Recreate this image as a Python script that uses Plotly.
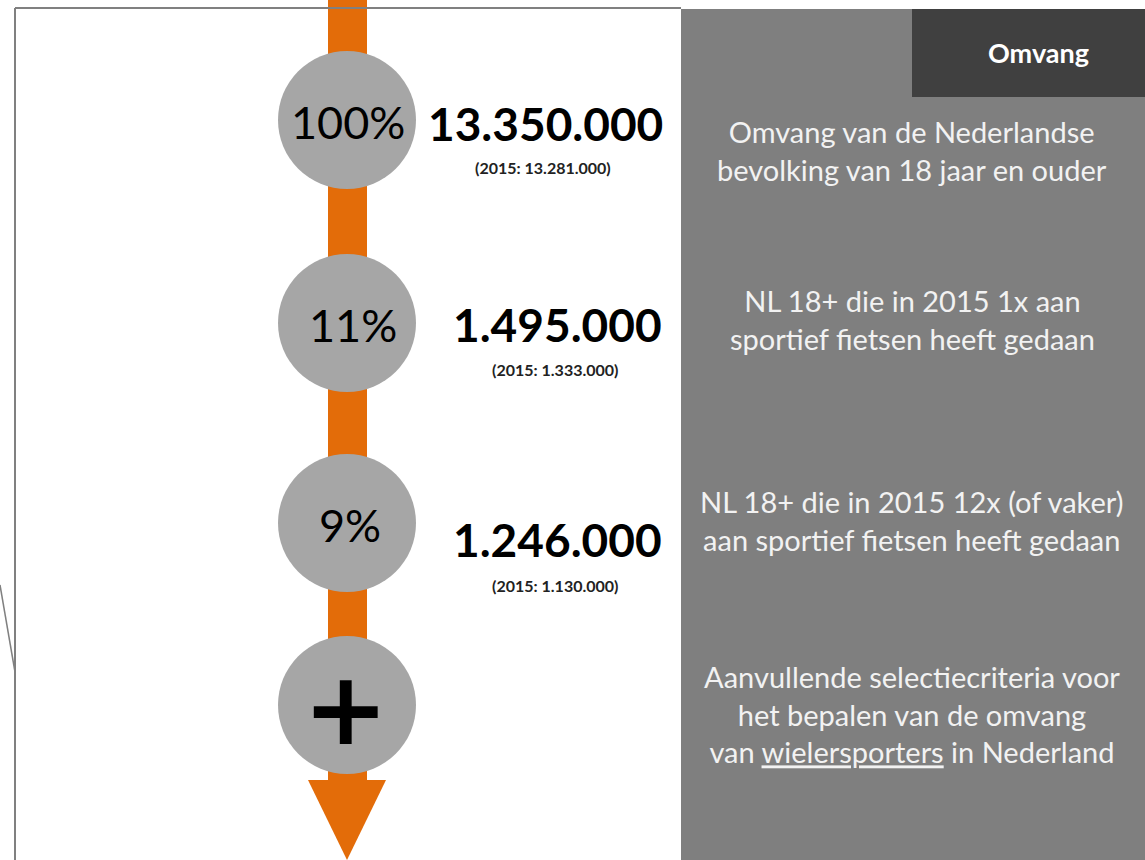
import plotly.graph_objects as go

# data
shares = ["100%", "11%", "9%", "+"]
totals = ["13.350.000", "1.495.000", "1.246.000", ""]
totals_2015 = ["13.281.000", "1.333.000", "1.130.000", ""]
descriptions = [
    "Omvang van de Nederlandse<br>bevolking van 18 jaar en ouder",
    "NL 18+ die in 2015 1x aan<br>sportief fietsen heeft gedaan",
    "NL 18+ die in 2015 12x (of vaker)<br>aan sportief fietsen heeft gedaan",
    "Aanvullende selectiecriteria voor<br>het bepalen van de omvang<br>"
    "van <span style='text-decoration:underline'>wielersporters</span> in Nederland",
]
header = "Omvang"

# layout constants (pixels)
W, H = 1145, 860
cx = 347
row_y = [120, 323, 523, 705]
share_dx = [1, 6, 3]
num_x = [545, 557, 557]
num_y = [123, 324, 539]
sub_y = [167, 369, 585]
desc_y = [150, 319, 520, 714]
orange = "#e36c09"
circle = "#a6a6a6"
panel = "#7f7f7f"
font = "Lato"

fig = go.Figure()

shapes = [
    # frame
    dict(type="line", x0=15, y0=8, x1=681, y1=8, line=dict(color="#808080", width=2)),
    dict(type="line", x0=15, y0=8, x1=15, y1=H, line=dict(color="#808080", width=2)),
    dict(type="line", x0=0, y0=585, x1=15, y1=672, line=dict(color="#808080", width=1.5)),
    # right panel
    dict(type="rect", x0=681, y0=9, x1=W, y1=H, fillcolor=panel, line_width=0, layer="below"),
    dict(type="rect", x0=912, y0=9, x1=W, y1=97, fillcolor="#404040", line_width=0, layer="below"),
    # orange arrow
    dict(type="rect", x0=328, y0=0, x1=367, y1=782, fillcolor=orange, line_width=0, layer="below"),
    dict(type="path", path=f"M 308 780 L 386 780 L {cx} 860 Z", fillcolor=orange, line_width=0,
         layer="below"),
]

fig.add_trace(go.Scatter(
    x=[cx] * len(shares), y=row_y, mode="markers",
    marker=dict(size=138, color=circle, line_width=0),
    hoverinfo="skip", showlegend=False,
))

annotations = []
for i, s in enumerate(shares):
    if s == "+":
        annotations.append(dict(x=cx - 2, y=row_y[i] + 3, text="<b>+</b>", showarrow=False,
                                font=dict(family="DejaVu Sans", size=102, color="black")))
    else:
        annotations.append(dict(x=cx + share_dx[i], y=row_y[i] + 2, text=s, showarrow=False,
                                font=dict(family=font, size=45, color="black")))
for i, t in enumerate(totals):
    if not t:
        continue
    annotations.append(dict(x=num_x[i], y=num_y[i], text=f"<b>{t}</b>", showarrow=False,
                            font=dict(family=font, size=46, color="black")))
    annotations.append(dict(x=num_x[i] - 2, y=sub_y[i], text=f"<b>(2015: {totals_2015[i]})</b>",
                            showarrow=False, font=dict(family=font, size=16, color="#222222")))
for i, d in enumerate(descriptions):
    annotations.append(dict(x=912, y=desc_y[i], text=d, showarrow=False, align="center",
                            font=dict(family=font, size=29, color="#f2f2f2")))
annotations.append(dict(x=1038, y=52, text=f"<b>{header}</b>", showarrow=False,
                        font=dict(family=font, size=27, color="white")))

fig.update_layout(
    width=W, height=H, margin=dict(l=0, r=0, t=0, b=0),
    paper_bgcolor="white", plot_bgcolor="white",
    xaxis=dict(range=[0, W], visible=False, fixedrange=True),
    yaxis=dict(range=[H, 0], visible=False, fixedrange=True),
    shapes=shapes, annotations=annotations,
)

fig.write_html("out.html", config={"displayModeBar": False},
               post_script="document.body.style.margin='0';")
